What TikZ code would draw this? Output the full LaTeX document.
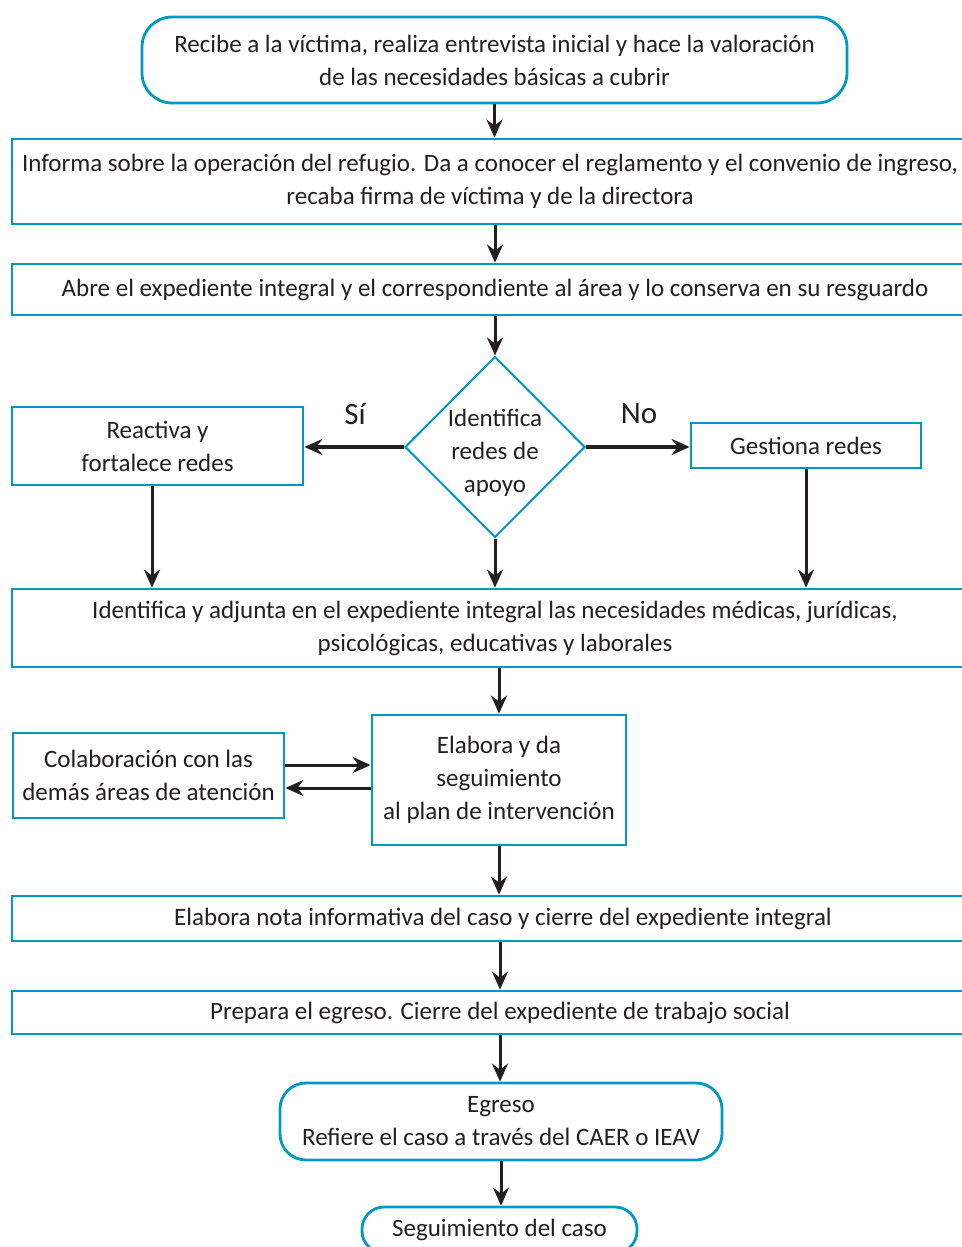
\documentclass[tikz,border=0pt]{standalone}
\usepackage{fontspec}
\setmainfont{Carlito}
\usetikzlibrary{arrows.meta,shapes.geometric}
\definecolor{azul}{RGB}{0,153,196}
\definecolor{tinta}{RGB}{35,31,32}

\tikzset{
  caja/.style={draw=azul, line width=1.4pt, inner sep=0pt, align=center, text=tinta,
    font=\fontsize{12.5}{16.5}\selectfont},
  redonda/.style={caja, rounded corners=13pt},
  rombo/.style={caja, diamond, line width=1pt, aspect=1, inner sep=-6pt},
  flecha/.style={-{Stealth[length=9pt,width=8pt,inset=3pt]}, line width=1.5pt, tinta},
  etiqueta/.style={text=tinta, font=\fontsize{15.5}{18}\selectfont},
}

\begin{document}
\begin{tikzpicture}[x=0.5pt,y=-0.5pt]
\useasboundingbox (0,0) rectangle (962,1247);

\node[redonda, rounded corners=15pt, minimum width=352.5pt, minimum height=43pt] (recibe) at (494.5,60)
  {Recibe a la víctima, realiza entrevista inicial y hace la valoración\\de las necesidades básicas a cubrir};
\node[caja, minimum width=478pt, minimum height=42.5pt] (informa) at (490,181.5)
  {Informa sobre la operación del refugio. Da a conocer el reglamento y el convenio de ingreso,\\recaba firma de víctima y de la directora};
\node[caja, minimum width=483pt, minimum height=25.5pt] (abre) at (495,289.5)
  {Abre el expediente integral y el correspondiente al área y lo conserva en su resguardo};

\node[rombo, minimum width=90pt, minimum height=90.5pt] (redes) at (495,447)
  {\rule{0pt}{15pt}Identifica\\redes de\\apoyo};
\node[caja, minimum width=145.5pt, minimum height=39pt] (reactiva) at (157.5,446)
  {Reactiva y\\fortalece redes};
\node[caja, minimum width=115pt, minimum height=22.5pt] (gestiona) at (806,445.5)
  {Gestiona redes};
\node[etiqueta] (si) at (355,414) {Sí};
\node[etiqueta] (no) at (639,414) {No};

\node[caja, minimum width=483pt, minimum height=39pt] (necesidades) at (495,628)
  {Identifica y adjunta en el expediente integral las necesidades médicas, jurídicas,\\psicológicas, educativas y laborales};

\node[caja, minimum width=127pt, minimum height=65pt] (plan) at (499,780)
  {Elabora y da\\seguimiento\\al plan de intervención};
\node[caja, minimum width=135.5pt, minimum height=42.5pt] (colabora) at (148.5,775.5)
  {Colaboración con las\\demás áreas de atención};

\node[caja, minimum width=491pt, minimum height=22.5pt] (nota) at (503,918.5)
  {Elabora nota informativa del caso y cierre del expediente integral};
\node[caja, minimum width=488pt, minimum height=21.5pt] (prepara) at (500,1012.5)
  {Prepara el egreso. Cierre del expediente de trabajo social};
\node[redonda, minimum width=221pt, minimum height=38.5pt] (egreso) at (501,1121.5)
  {Egreso\\Refiere el caso a través del CAER o IEAV};
\node[redonda, rounded corners=11pt, minimum width=137.5pt, minimum height=23pt] (seguimiento) at (499.5,1230)
  {Seguimiento del caso};

% flujo principal
\draw[flecha] (recibe.south) -- (recibe.south |- informa.north);
\draw[flecha] (informa.south -| abre.north) -- (abre.north);
\draw[flecha] (abre.south) -- (redes.north);

% decision
\draw[flecha, line width=2pt] (redes.west) -- (redes.west -| reactiva.east);
\draw[flecha, line width=2pt] (redes.east) -- (redes.east -| gestiona.west);
\draw[flecha] ([xshift=-2.75pt]reactiva.south) -- ([xshift=-2.75pt]reactiva.south |- necesidades.north);
\draw[flecha] (redes.south) -- (redes.south |- necesidades.north);
\draw[flecha] (gestiona.south) -- (gestiona.south |- necesidades.north);

\draw[flecha] (plan.north |- necesidades.south) -- (plan.north);
\draw[flecha] ([yshift=5.25pt]colabora.east) -- ([yshift=5.25pt]colabora.east -| plan.west);
\draw[flecha] ([yshift=-6.25pt]colabora.east -| plan.west) -- ([yshift=-6.25pt]colabora.east);

\draw[flecha] (plan.south) -- (plan.south |- nota.north);
\draw[flecha] (nota.south -| prepara.north) -- (prepara.north);
\draw[flecha] (prepara.south) -- (prepara.south |- egreso.north);
\draw[flecha] (egreso.south) -- (egreso.south |- seguimiento.north);
\end{tikzpicture}
\end{document}
